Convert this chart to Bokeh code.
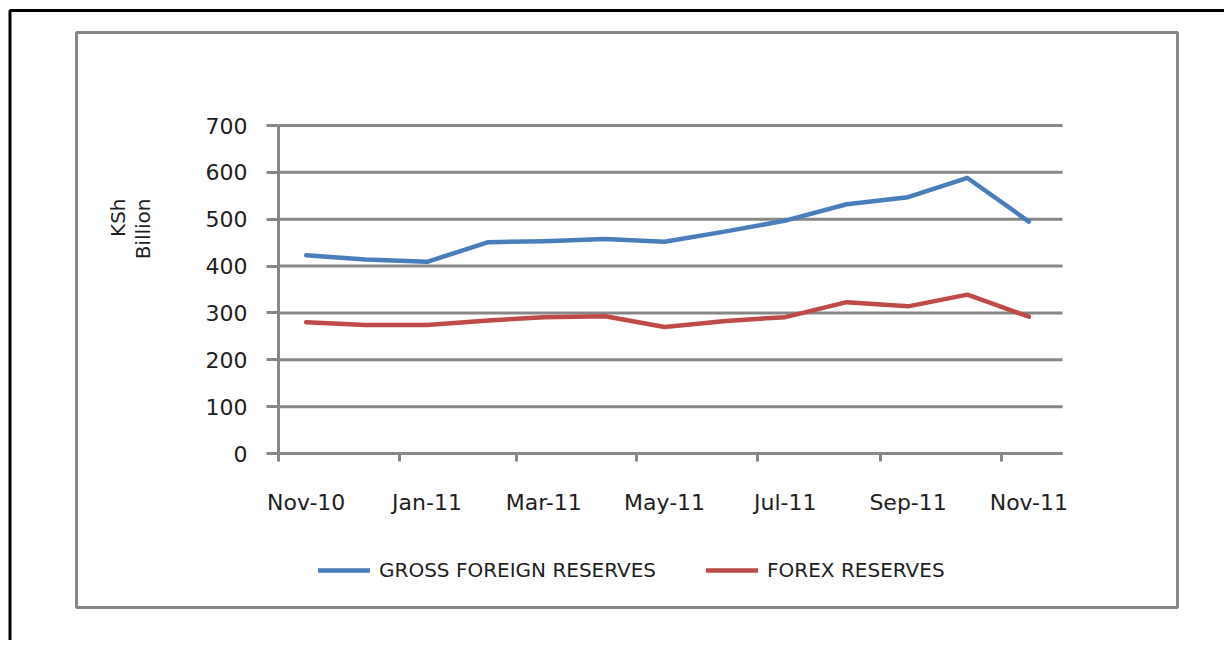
import pandas as pd
from math import pi
from bokeh.plotting import figure
from bokeh.models import (Range1d, FixedTicker, DatetimeTickFormatter, Legend,
                          LegendItem, BoxAnnotation, Label)
from bokeh.embed import file_html
from bokeh.resources import INLINE

# ---------------- data ----------------
months = ["2010-11-15", "2010-12-15", "2011-01-15", "2011-02-15", "2011-03-15",
          "2011-04-15", "2011-05-15", "2011-06-15", "2011-07-15", "2011-08-15",
          "2011-09-15", "2011-10-15", "2011-11-15"]
gross_reserves = [423, 414, 409, 451, 453, 458, 452, 474, 497, 532, 547, 588, 495]
forex_reserves = [280, 274, 274, 284, 291, 293, 270, 283, 291, 323, 314, 339, 292]
series_names = ["GROSS FOREIGN RESERVES", "FOREX RESERVES"]
tick_months = ["2010-11-01", "2011-01-01", "2011-03-01", "2011-05-01",
               "2011-07-01", "2011-09-01", "2011-11-01"]
label_dates = ["2010-11-15", "2011-01-15", "2011-03-15", "2011-05-15",
               "2011-07-15", "2011-09-15", "2011-11-15"]
y_ticks = [0, 100, 200, 300, 400, 500, 600, 700]
y_label_lines = ["KSh", "Billion"]
x_start, x_end = "2010-11-01", "2011-12-02"
y_start, y_end = 0, 700


def ms(s):
    return pd.Timestamp(s).timestamp() * 1000.0


dates = [pd.Timestamp(d).to_pydatetime() for d in months]

# ---------------- layout (pixels) ----------------
W, H = 1224, 640
PX_LEFT, PX_RIGHT = 278, 1062     # plot area horizontal extent
PX_TOP, PX_BOTTOM = 125, 453      # plot area vertical extent

x0, x1 = ms(x_start), ms(x_end)
px_per_ms = (PX_RIGHT - PX_LEFT) / (x1 - x0)
px_per_unit = (PX_BOTTOM - PX_TOP) / (y_end - y_start)
xr = Range1d(x0 - PX_LEFT / px_per_ms, x1 + (W - PX_RIGHT) / px_per_ms)
yr = Range1d(y_start - (H - PX_BOTTOM) / px_per_unit, y_end + PX_TOP / px_per_unit)

GRAY = "#878787"
TEXT = "#1e1e1e"
FONT = "DejaVu Sans"

p = figure(width=W, height=H, output_backend="svg", toolbar_location=None,
           x_axis_type="datetime", x_range=xr, y_range=yr,
           min_border=0, min_border_left=0, min_border_right=0,
           min_border_top=0, min_border_bottom=0)
p.outline_line_color = None
p.background_fill_color = "white"
p.border_fill_color = "white"
p.grid.visible = False

# horizontal gridlines over the plot area only
p.segment(x0=[x0] * len(y_ticks), x1=[x1] * len(y_ticks), y0=y_ticks, y1=y_ticks,
          line_color=GRAY, line_width=3)

# data lines
r1 = p.line(dates, gross_reserves, line_color="#4a7ebb", line_width=4.5,
            line_join="round", line_cap="round")
r2 = p.line(dates, forex_reserves, line_color="#be4b48", line_width=4.5,
            line_join="round", line_cap="round")

# x axis (fixed at y = 0)
xa = p.xaxis[0]
xa.fixed_location = y_start
xa.bounds = (x0, x1)
xa.ticker = FixedTicker(ticks=[ms(d) for d in label_dates],
                        minor_ticks=[ms(d) for d in tick_months])
fmt = "%b-%y"
xa.formatter = DatetimeTickFormatter(microseconds=fmt, milliseconds=fmt, seconds=fmt,
                                     minsec=fmt, minutes=fmt, hourmin=fmt, hours=fmt,
                                     days=fmt, months=fmt, years=fmt)
xa.axis_line_color = GRAY
xa.axis_line_width = 3
xa.major_tick_out = 0
xa.major_tick_in = 0
xa.minor_tick_out = 8
xa.minor_tick_in = 0
xa.minor_tick_line_color = GRAY
xa.minor_tick_line_width = 3
xa.major_label_standoff = 28
xa.major_label_text_font = FONT
xa.major_label_text_font_size = "22px"
xa.major_label_text_color = TEXT

# y axis (fixed at x = x_start)
ya = p.yaxis[0]
ya.fixed_location = x0
ya.bounds = (y_start, y_end)
ya.ticker = FixedTicker(ticks=y_ticks, minor_ticks=[])
ya.axis_line_color = GRAY
ya.axis_line_width = 3
ya.major_tick_out = 12
ya.major_tick_in = 0
ya.major_tick_line_color = GRAY
ya.major_tick_line_width = 3
ya.minor_tick_out = 0
ya.minor_tick_in = 0
ya.major_label_standoff = 19
ya.major_label_text_font = FONT
ya.major_label_text_font_size = "22px"
ya.major_label_text_color = TEXT

# y label (two lines, rotated, end-aligned at top)
for txt, xc in zip(y_label_lines, [117, 142]):
    p.add_layout(Label(x=xc, y=H - 198, x_units="screen", y_units="screen", text=txt,
                       angle=pi / 2, text_align="right", text_baseline="middle",
                       text_font=FONT, text_font_size="20px", text_color=TEXT))

# legend
legend = Legend(items=[LegendItem(label=series_names[0], renderers=[r1]),
                       LegendItem(label=series_names[1], renderers=[r2])],
                orientation="horizontal", location=(318, H - 582),
                padding=0, margin=0, spacing=50,
                glyph_width=52, glyph_height=20, label_height=20,
                label_standoff=9, label_text_font=FONT, label_text_font_size="20px",
                label_text_color=TEXT,
                background_fill_alpha=0, border_line_color=None)
p.add_layout(legend)

# chart area box and outer black border
p.add_layout(BoxAnnotation(left=76, right=1177, top=32, bottom=607,
                           left_units="canvas", right_units="canvas",
                           top_units="canvas", bottom_units="canvas",
                           fill_alpha=0, line_color=GRAY, line_alpha=1.0, line_width=3))
p.add_layout(BoxAnnotation(left=9.5, right=5000, top=10, bottom=5000,
                           left_units="canvas", right_units="canvas",
                           top_units="canvas", bottom_units="canvas",
                           fill_alpha=0, line_color="black", line_alpha=1.0, line_width=3))

open("out.html", "w").write(file_html(p, INLINE))
